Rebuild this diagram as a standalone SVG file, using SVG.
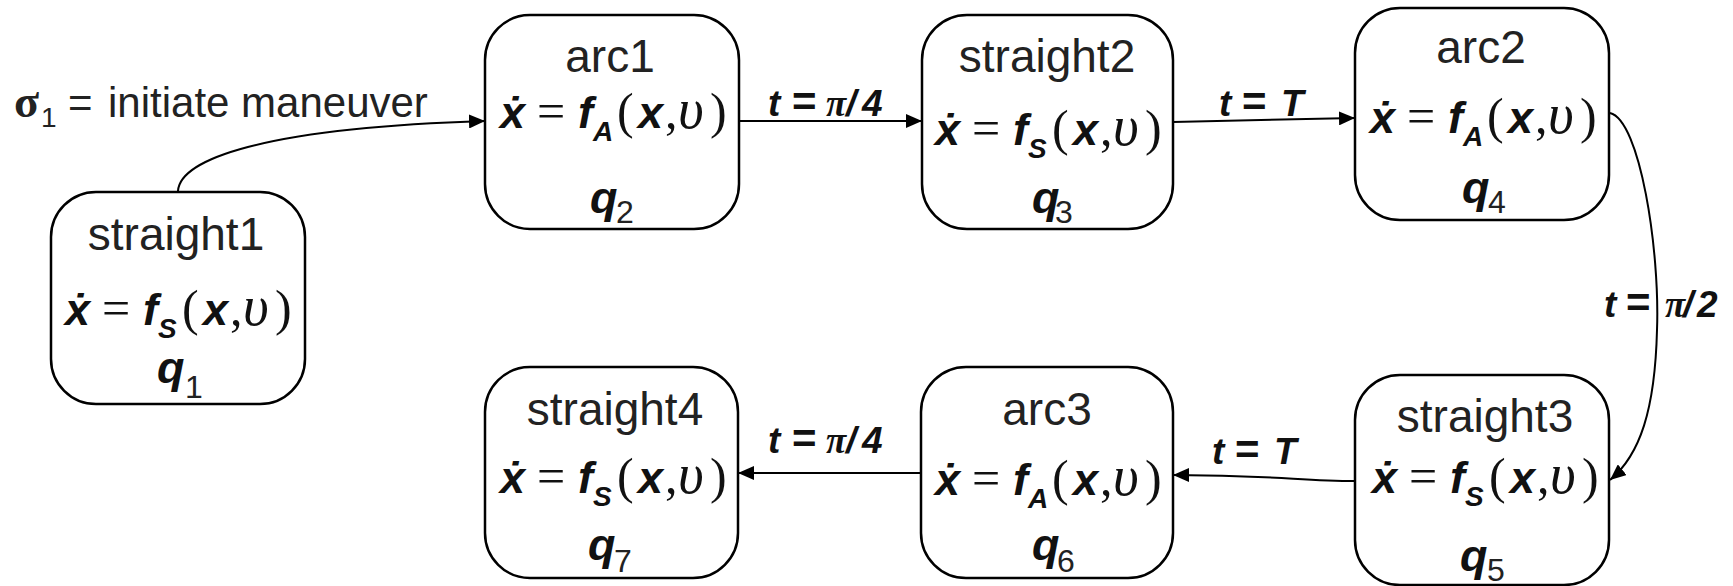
<svg xmlns="http://www.w3.org/2000/svg" width="1733" height="586" viewBox="0 0 1733 586">
<style>
.box{fill:#fff;stroke:#000;stroke-width:2.5}
.edge{fill:none;stroke:#000;stroke-width:2}
.name{font-family:"Liberation Sans",Arial,sans-serif;font-size:46px;fill:#222;text-anchor:middle}
.eqn{font-family:"Liberation Sans",Arial,sans-serif;font-size:45px;fill:#111}
.bi{font-weight:bold;font-style:italic}
.sub{font-weight:bold;font-style:italic;font-size:28px}
.ser{font-family:"Liberation Serif","Times New Roman",serif;font-size:50px;font-weight:normal;font-style:normal}
.ups{font-family:"Liberation Serif","Times New Roman",serif;font-size:56px;font-style:italic;font-weight:normal}
.qs{font-weight:normal;font-style:normal;font-size:32px;fill:#222}
.lab{font-family:"Liberation Sans",Arial,sans-serif;font-size:37px;font-weight:bold;font-style:italic;fill:#111}
.leq{font-style:normal;font-size:42px}
.pi{font-family:"Liberation Serif","Times New Roman",serif}
.sig{font-family:"Liberation Sans",Arial,sans-serif;font-size:42px;fill:#222}
</style>
<defs>
<marker id="arr" markerWidth="16" markerHeight="14" refX="16" refY="7" orient="auto" markerUnits="userSpaceOnUse">
<path d="M0,0 L16,7 L0,14 z" fill="#000"/>
</marker>
</defs>
<rect width="1733" height="586" fill="#fff"/>

<g id="edges">
<path class="edge" d="M178,191 C180,160 260,128 485,121" marker-end="url(#arr)"/>
<path class="edge" d="M739,121 L922,121" marker-end="url(#arr)"/>
<path class="edge" d="M1173,122 L1355,118" marker-end="url(#arr)"/>
<path class="edge" d="M1610,113 C1640,120 1660,250 1657,330 C1655,410 1640,455 1610,480" marker-end="url(#arr)"/>
<path class="edge" d="M1355,481 C1300,481 1275,475 1173,475" marker-end="url(#arr)"/>
<path class="edge" d="M921,473 L738,473" marker-end="url(#arr)"/>
</g>

<g id="edge-labels">
<text class="sig"><tspan x="14" y="117" style="font-family:'Liberation Serif','Times New Roman',serif;font-weight:bold;font-size:46px">σ</tspan><tspan x="41" y="127" style="font-size:28px">1</tspan><tspan x="68" y="117">=</tspan><tspan x="108" y="117">initiate maneuver</tspan></text>
<text class="lab"><tspan x="768" y="116">t</tspan><tspan class="leq" x="792">=</tspan><tspan class="pi" x="826">π</tspan><tspan x="846">/</tspan><tspan x="862">4</tspan></text>
<text class="lab"><tspan x="1219" y="116">t</tspan><tspan class="leq" x="1242">=</tspan><tspan x="1281">T</tspan></text>
<text class="lab"><tspan x="1604" y="317">t</tspan><tspan class="leq" x="1626">=</tspan><tspan class="pi" x="1665">π</tspan><tspan x="1683">/</tspan><tspan x="1697">2</tspan></text>
<text class="lab"><tspan x="1212" y="464">t</tspan><tspan class="leq" x="1235">=</tspan><tspan x="1274">T</tspan></text>
<text class="lab"><tspan x="768" y="453">t</tspan><tspan class="leq" x="792">=</tspan><tspan class="pi" x="826">π</tspan><tspan x="846">/</tspan><tspan x="862">4</tspan></text>
</g>

<g id="q1">
<rect class="box" x="51" y="192" width="254" height="212" rx="45"/>
<text class="name" x="176" y="250">straight1</text>
<text class="eqn"><tspan class="bi" x="65" y="325">ẋ</tspan><tspan class="ser" x="102" y="325">=</tspan><tspan class="bi" x="143" y="325">f</tspan><tspan class="sub" x="158" y="338">S</tspan><tspan class="ser" x="182" y="325">(</tspan><tspan class="bi" x="203" y="325">x</tspan><tspan class="ser" x="230" y="325">,</tspan><tspan class="ups" x="243" y="325">υ</tspan><tspan class="ser" x="275" y="325">)</tspan></text>
<text class="eqn"><tspan class="bi" x="157" y="383">q</tspan><tspan class="qs" x="185" y="398">1</tspan></text>
</g>

<g id="q2">
<rect class="box" x="485" y="15" width="254" height="214" rx="45"/>
<text class="name" x="610" y="72">arc1</text>
<text class="eqn"><tspan class="bi" x="500" y="128">ẋ</tspan><tspan class="ser" x="537" y="128">=</tspan><tspan class="bi" x="578" y="128">f</tspan><tspan class="sub" x="593" y="141">A</tspan><tspan class="ser" x="617" y="128">(</tspan><tspan class="bi" x="638" y="128">x</tspan><tspan class="ser" x="665" y="128">,</tspan><tspan class="ups" x="678" y="128">υ</tspan><tspan class="ser" x="710" y="128">)</tspan></text>
<text class="eqn"><tspan class="bi" x="590" y="213">q</tspan><tspan class="qs" x="616" y="223">2</tspan></text>
</g>

<g id="q3">
<rect class="box" x="922" y="15" width="251" height="214" rx="45"/>
<text class="name" x="1047" y="72">straight2</text>
<text class="eqn"><tspan class="bi" x="935" y="145">ẋ</tspan><tspan class="ser" x="972" y="145">=</tspan><tspan class="bi" x="1013" y="145">f</tspan><tspan class="sub" x="1028" y="158">S</tspan><tspan class="ser" x="1052" y="145">(</tspan><tspan class="bi" x="1073" y="145">x</tspan><tspan class="ser" x="1100" y="145">,</tspan><tspan class="ups" x="1113" y="145">υ</tspan><tspan class="ser" x="1145" y="145">)</tspan></text>
<text class="eqn"><tspan class="bi" x="1032" y="213">q</tspan><tspan class="qs" x="1055" y="223">3</tspan></text>
</g>

<g id="q4">
<rect class="box" x="1355" y="8" width="254" height="212" rx="45"/>
<text class="name" x="1481" y="63">arc2</text>
<text class="eqn"><tspan class="bi" x="1370" y="133">ẋ</tspan><tspan class="ser" x="1407" y="133">=</tspan><tspan class="bi" x="1448" y="133">f</tspan><tspan class="sub" x="1463" y="146">A</tspan><tspan class="ser" x="1487" y="133">(</tspan><tspan class="bi" x="1508" y="133">x</tspan><tspan class="ser" x="1535" y="133">,</tspan><tspan class="ups" x="1548" y="133">υ</tspan><tspan class="ser" x="1580" y="133">)</tspan></text>
<text class="eqn"><tspan class="bi" x="1462" y="203">q</tspan><tspan class="qs" x="1488" y="213">4</tspan></text>
</g>

<g id="q5">
<rect class="box" x="1355" y="375" width="254" height="210" rx="45"/>
<text class="name" x="1485" y="432">straight3</text>
<text class="eqn"><tspan class="bi" x="1372" y="493">ẋ</tspan><tspan class="ser" x="1409" y="493">=</tspan><tspan class="bi" x="1450" y="493">f</tspan><tspan class="sub" x="1465" y="506">S</tspan><tspan class="ser" x="1489" y="493">(</tspan><tspan class="bi" x="1510" y="493">x</tspan><tspan class="ser" x="1537" y="493">,</tspan><tspan class="ups" x="1550" y="493">υ</tspan><tspan class="ser" x="1582" y="493">)</tspan></text>
<text class="eqn"><tspan class="bi" x="1460" y="571">q</tspan><tspan class="qs" x="1487" y="581">5</tspan></text>
</g>

<g id="q6">
<rect class="box" x="921" y="367" width="252" height="211" rx="45"/>
<text class="name" x="1047" y="425">arc3</text>
<text class="eqn"><tspan class="bi" x="935" y="495">ẋ</tspan><tspan class="ser" x="972" y="495">=</tspan><tspan class="bi" x="1013" y="495">f</tspan><tspan class="sub" x="1028" y="508">A</tspan><tspan class="ser" x="1052" y="495">(</tspan><tspan class="bi" x="1073" y="495">x</tspan><tspan class="ser" x="1100" y="495">,</tspan><tspan class="ups" x="1113" y="495">υ</tspan><tspan class="ser" x="1145" y="495">)</tspan></text>
<text class="eqn"><tspan class="bi" x="1032" y="560">q</tspan><tspan class="qs" x="1057" y="572">6</tspan></text>
</g>

<g id="q7">
<rect class="box" x="485" y="367" width="253" height="211" rx="45"/>
<text class="name" x="615" y="425">straight4</text>
<text class="eqn"><tspan class="bi" x="500" y="493">ẋ</tspan><tspan class="ser" x="537" y="493">=</tspan><tspan class="bi" x="578" y="493">f</tspan><tspan class="sub" x="593" y="506">S</tspan><tspan class="ser" x="617" y="493">(</tspan><tspan class="bi" x="638" y="493">x</tspan><tspan class="ser" x="665" y="493">,</tspan><tspan class="ups" x="678" y="493">υ</tspan><tspan class="ser" x="710" y="493">)</tspan></text>
<text class="eqn"><tspan class="bi" x="588" y="560">q</tspan><tspan class="qs" x="614" y="572">7</tspan></text>
</g>
</svg>
